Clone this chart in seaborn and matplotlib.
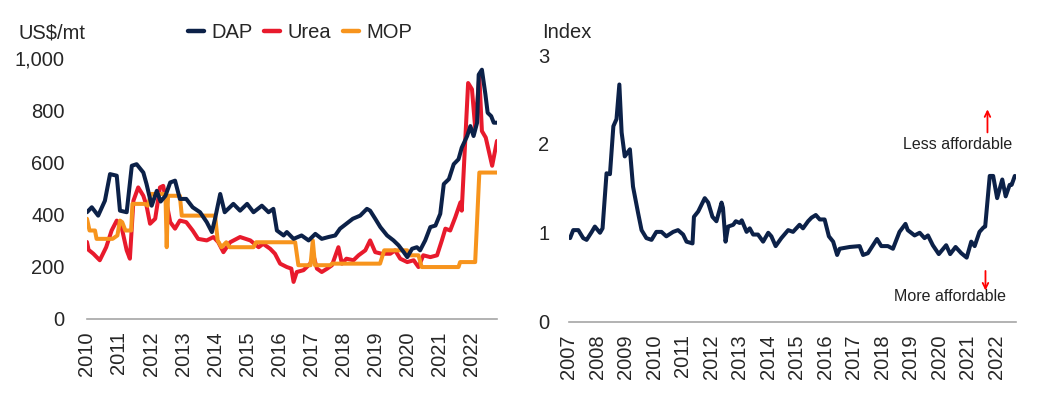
import matplotlib
matplotlib.use("Agg")
import matplotlib.pyplot as plt
import seaborn as sns
import pandas as pd

sns.set_style("white")
plt.rcParams['font.family'] = ['Liberation Sans', 'DejaVu Sans']

NAVY = '#0C2148'
RED = '#E81A2C'
ORANGE = '#F7941D'
GRID_GREY = '#A6A6A6'
FS = 14.5
LW = 2.9

# Left panel: fertilizer prices, US$/mt (decimal years)
dap_t = [2010.0, 2010.15, 2010.35, 2010.56, 2010.72, 2010.93, 2011.03, 2011.24, 2011.4, 2011.55,
         2011.76, 2011.86, 2012.02, 2012.18, 2012.3, 2012.45, 2012.6, 2012.75, 2012.9, 2013.1,
         2013.3, 2013.53, 2013.74, 2013.9, 2014.0, 2014.16, 2014.3, 2014.57, 2014.78, 2015.0,
         2015.2, 2015.46, 2015.67, 2015.82, 2015.93, 2016.14, 2016.24, 2016.45, 2016.7, 2016.92,
         2017.13, 2017.33, 2017.54, 2017.75, 2017.9, 2018.1, 2018.3, 2018.53, 2018.74, 2018.84,
         2019.0, 2019.16, 2019.37, 2019.57, 2019.73, 2019.89, 2020.0, 2020.15, 2020.3, 2020.4,
         2020.56, 2020.72, 2020.88, 2021.03, 2021.14, 2021.3, 2021.45, 2021.6, 2021.7, 2021.87,
         2021.97, 2022.07, 2022.18, 2022.23, 2022.33, 2022.44, 2022.51, 2022.62, 2022.7, 2022.8]
dap_v = [409, 428, 396, 453, 555, 549, 415, 409, 587, 593,
         561, 517, 434, 491, 450, 472, 523, 530, 460, 460,
         428, 409, 371, 333, 385, 479, 409, 441, 415, 441,
         409, 434, 409, 422, 339, 320, 333, 307, 320, 301,
         326, 307, 314, 320, 346, 365, 384, 396, 422, 415,
         384, 352, 320, 301, 282, 256, 237, 269, 275, 263,
         301, 352, 358, 403, 517, 536, 593, 612, 656, 701,
         739, 701, 752, 936, 955, 860, 790, 777, 752, 752]

urea_t = [2010.0, 2010.05, 2010.2, 2010.4, 2010.6, 2010.77, 2010.93, 2011.08, 2011.24, 2011.34,
          2011.45, 2011.6, 2011.76, 2011.86, 2011.97, 2012.13, 2012.28, 2012.38, 2012.49, 2012.6,
          2012.75, 2012.9, 2013.1, 2013.3, 2013.47, 2013.74, 2013.95, 2014.1, 2014.26, 2014.47,
          2014.78, 2015.1, 2015.36, 2015.5, 2015.72, 2015.87, 2016.03, 2016.24, 2016.38, 2016.45,
          2016.55, 2016.76, 2016.97, 2017.07, 2017.18, 2017.33, 2017.5, 2017.65, 2017.85, 2017.96,
          2018.1, 2018.32, 2018.48, 2018.69, 2018.84, 2019.0, 2019.2, 2019.47, 2019.62, 2019.78,
          2020.0, 2020.2, 2020.35, 2020.5, 2020.72, 2020.93, 2021.08, 2021.19, 2021.34, 2021.5,
          2021.66, 2021.7, 2021.9, 2022.02, 2022.12, 2022.25, 2022.33, 2022.45, 2022.65, 2022.8]
urea_v = [295, 265, 250, 225, 275, 339, 377, 352, 263, 231,
          453, 504, 472, 434, 365, 384, 504, 510, 441, 371,
          346, 377, 371, 339, 307, 301, 314, 294, 256, 294,
          314, 301, 275, 288, 269, 250, 212, 199, 193, 142,
          180, 187, 212, 244, 193, 180, 193, 206, 275, 212,
          231, 225, 244, 263, 301, 256, 250, 250, 263, 231,
          218, 225, 199, 244, 237, 244, 301, 346, 339, 390,
          447, 415, 904, 880, 733, 930, 720, 695, 587, 682]

mop_t = [2010.0, 2010.08, 2010.25, 2010.3, 2010.8, 2010.95, 2011.03, 2011.1, 2011.2, 2011.38,
         2011.42, 2011.8, 2011.9, 2012.0, 2012.45, 2012.49, 2012.53, 2012.9, 2012.96, 2014.0,
         2014.08, 2014.2, 2014.35, 2014.45, 2015.2, 2015.28, 2016.5, 2016.6, 2016.98, 2017.05,
         2017.12, 2017.6, 2017.65, 2019.15, 2019.28, 2020.0, 2020.05, 2020.35, 2020.45, 2021.6,
         2021.65, 2022.12, 2022.25, 2022.8]
mop_v = [384, 339, 339, 307, 307, 320, 377, 371, 339, 339,
         441, 441, 434, 479, 479, 275, 472, 472, 396, 396,
         301, 275, 294, 275, 275, 294, 294, 206, 206, 301,
         206, 206, 212, 212, 263, 263, 244, 244, 199, 199,
         218, 218, 561, 561]

# Right panel: affordability index
idx_t = [2007.04, 2007.15, 2007.33, 2007.5, 2007.62, 2007.8, 2007.91, 2008.09, 2008.18, 2008.32,
         2008.44, 2008.56, 2008.67, 2008.77, 2008.85, 2008.96, 2009.14, 2009.25, 2009.43, 2009.55,
         2009.72, 2009.9, 2010.07, 2010.25, 2010.42, 2010.66, 2010.83, 2011.01, 2011.13, 2011.34,
         2011.39, 2011.54, 2011.77, 2011.89, 2012.04, 2012.18, 2012.36, 2012.41, 2012.5, 2012.59,
         2012.77, 2012.86, 2013.0, 2013.07, 2013.24, 2013.35, 2013.47, 2013.64, 2013.82, 2014.0,
         2014.11, 2014.26, 2014.46, 2014.7, 2014.87, 2015.1, 2015.22, 2015.4, 2015.52, 2015.67,
         2015.81, 2015.98, 2016.13, 2016.28, 2016.42, 2016.51, 2016.86, 2017.21, 2017.33, 2017.5,
         2017.68, 2017.82, 2017.97, 2018.2, 2018.38, 2018.61, 2018.82, 2018.9, 2019.14, 2019.32,
         2019.49, 2019.61, 2019.78, 2019.99, 2020.25, 2020.39, 2020.58, 2020.78, 2020.97, 2021.13,
         2021.25, 2021.42, 2021.56, 2021.62, 2021.78, 2021.9, 2022.04, 2022.22, 2022.34, 2022.48,
         2022.55, 2022.66]
idx_v = [0.94, 1.03, 1.03, 0.94, 0.92, 1.01, 1.07, 1.0, 1.05, 1.67,
         1.66, 2.2, 2.28, 2.67, 2.13, 1.86, 1.94, 1.52, 1.22, 1.03,
         0.94, 0.92, 1.01, 1.01, 0.96, 1.01, 1.03, 0.98, 0.9, 0.88,
         1.18, 1.24, 1.39, 1.34, 1.18, 1.13, 1.34, 1.28, 0.9, 1.07,
         1.09, 1.13, 1.11, 1.14, 1.01, 1.05, 0.98, 0.98, 0.9, 1.0,
         0.96, 0.85, 0.94, 1.03, 1.01, 1.09, 1.05, 1.13, 1.17, 1.2,
         1.15, 1.15, 0.96, 0.9, 0.75, 0.82, 0.84, 0.85, 0.75, 0.77,
         0.86, 0.93, 0.85, 0.85, 0.82, 1.01, 1.1, 1.03, 0.97, 1.0,
         0.94, 0.97, 0.86, 0.76, 0.86, 0.76, 0.84, 0.77, 0.72, 0.9,
         0.85, 1.01, 1.06, 1.07, 1.64, 1.64, 1.39, 1.6, 1.41, 1.54,
         1.54, 1.64]

left_years = list(range(2010, 2023))
right_years = list(range(2007, 2023))
left_yticks = [0, 200, 400, 600, 800, 1000]
left_ylabels = ['0', '200', '400', '600', '800', '1,000']
right_yticks = [0, 1, 2, 3]


def style_axis(ax):
    for side in ['top', 'right', 'left']:
        ax.spines[side].set_visible(False)
    ax.spines['bottom'].set_color(GRID_GREY)
    ax.spines['bottom'].set_linewidth(1.2)
    ax.grid(False)
    ax.set_xlabel('')
    ax.set_ylabel('')


fig = plt.figure(figsize=(10.39, 3.97), dpi=100)
ax1 = fig.add_axes([0.0837, 0.1965, 0.3946, 0.6575])
ax2 = fig.add_axes([0.5476, 0.19, 0.4302, 0.671])

series = [('DAP', dap_t, dap_v, NAVY), ('Urea', urea_t, urea_v, RED), ('MOP', mop_t, mop_v, ORANGE)]
for name, t, v, col in series:
    df = pd.DataFrame({'t': t, 'v': v})
    sns.lineplot(data=df, x='t', y='v', ax=ax1, color=col, linewidth=LW,
                 estimator=None, sort=False, label=name)
for ln in ax1.lines:
    ln.set_solid_joinstyle('round')
# DAP on top
ax1.lines[0].set_zorder(4)

style_axis(ax1)
ax1.set_xlim(2010, 2022.8)
ax1.set_ylim(0, 1000)
ax1.set_xticks(left_years)
ax1.set_xticklabels([str(y) for y in left_years], rotation=90, fontsize=FS)
ax1.set_yticks(left_yticks)
ax1.set_yticklabels(left_ylabels, fontsize=FS)
ax1.tick_params(axis='y', length=0, pad=16)
ax1.tick_params(axis='x', length=0, pad=9)
leg = ax1.legend(loc='center', bbox_to_anchor=(300 / 1039, 1 - 33 / 397), bbox_transform=fig.transFigure,
                 ncol=3, frameon=False, fontsize=FS, handlelength=0.8, handletextpad=0.35,
                 columnspacing=0.6)
for h in leg.get_lines():
    h.set_linewidth(3.2)

idx_df = pd.DataFrame({'t': idx_t, 'v': idx_v})
sns.lineplot(data=idx_df, x='t', y='v', ax=ax2, color=NAVY, linewidth=LW, estimator=None, sort=False)
ax2.lines[0].set_solid_joinstyle('round')
style_axis(ax2)
ax2.set_xlim(2007, 2022.7)
ax2.set_ylim(0, 3)
ax2.set_xticks(right_years)
ax2.set_xticklabels([str(y) for y in right_years], rotation=90, fontsize=FS)
ax2.set_yticks(right_yticks)
ax2.set_yticklabels([str(y) for y in right_yticks], fontsize=FS)
ax2.tick_params(axis='y', length=0, pad=14)
ax2.tick_params(axis='x', length=0, pad=9)

ax2.text(2020.65, 1.99, 'Less affordable', ha='center', va='center', fontsize=11.5, color='#222222')
ax2.text(2020.4, 0.28, 'More affordable', ha='center', va='center', fontsize=11.5, color='#222222')
ax2.annotate('', xy=(2021.7, 2.39), xytext=(2021.7, 2.13),
             arrowprops=dict(arrowstyle='->', color='red', lw=1.3, shrinkA=0, shrinkB=0))
ax2.annotate('', xy=(2021.63, 0.35), xytext=(2021.63, 0.57),
             arrowprops=dict(arrowstyle='->', color='red', lw=1.3, shrinkA=0, shrinkB=0))

fig.text(18 / 1039, 1 - 33 / 397, 'US$/mt', fontsize=FS, va='center', ha='left')
fig.text(542 / 1039, 1 - 33 / 397, 'Index', fontsize=FS, va='center', ha='left')

fig.savefig('out.png', dpi=100, facecolor='white')
